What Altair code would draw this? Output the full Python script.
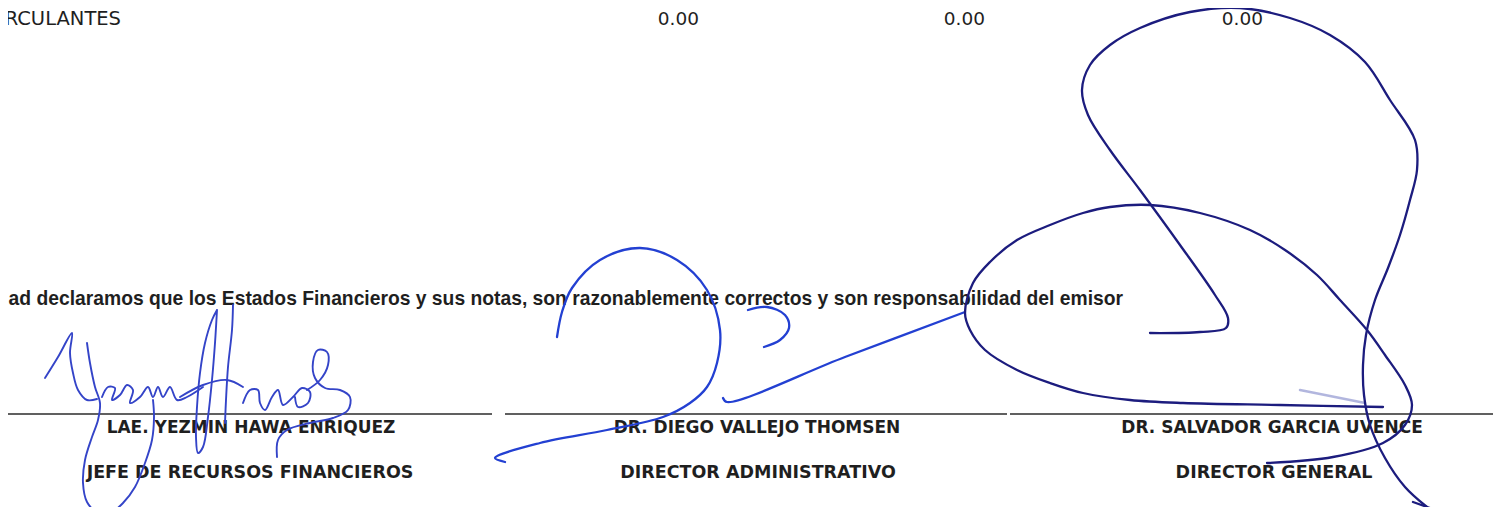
import altair as alt
import pandas as pd

# ---------------- data ----------------
row_label = ["CIRCULANTES"]
row_label_x = [121]
row_label_y = [25]

value_text = ["0.00", "0.00", "0.00"]
value_x = [699, 985, 1263]
value_y = [25, 25, 25]

decl_text = ["Bajo protesta de decir verdad declaramos que los Estados Financieros y sus notas, son razonablemente correctos y son responsabilidad del emisor"]
decl_x = [1123]
decl_y = [305]

names = ["LAE. YEZMIN HAWA ENRIQUEZ", "DR. DIEGO VALLEJO THOMSEN", "DR. SALVADOR GARCIA UVENCE"]
titles = ["JEFE DE RECURSOS FINANCIEROS", "DIRECTOR ADMINISTRATIVO", "DIRECTOR GENERAL"]
names_x = [251, 757, 1272]
titles_x = [250, 758, 1274]
names_y = [433, 433, 433]
titles_y = [478, 478, 478]

rule_x = [8, 505, 1010]
rule_x2 = [492, 1007, 1493]
rule_y = [414, 414, 414]

# signature strokes
sig_left = {
    "L1": [(45, 378), (58, 357), (72, 333), (70, 353), (73, 373), (78, 390), (87, 400), (97, 399)],
    "L2": [(87, 343), (90, 363), (95, 387), (100, 403), (98, 420), (92, 437), (85, 460), (83, 483),
           (87, 502), (97, 512), (110, 513), (123, 503), (135, 487), (145, 463), (152, 440), (154, 417), (153, 400)],
    "L3": [(102, 397), (108, 387), (115, 388), (112, 400), (120, 395), (127, 385), (133, 390), (130, 403),
           (140, 397), (148, 387), (153, 397), (158, 387), (163, 397), (170, 387), (177, 400), (187, 397), (203, 387)],
    "L4": [(217, 310), (212, 320), (205, 343), (200, 373), (197, 407), (196, 437), (198, 453), (203, 447),
           (208, 417), (212, 380), (215, 343), (217, 310)],
    "L5": [(233, 305), (232, 330), (228, 367), (226, 400), (225, 423)],
    "L6": [(180, 397), (203, 385), (227, 380), (243, 387)],
    "L7": [(243, 403), (250, 390), (258, 390), (260, 403), (265, 410), (272, 397), (278, 390), (283, 405),
           (293, 397), (302, 388), (310, 392), (308, 403), (298, 407), (295, 397)],
    "L8": [(307, 390), (320, 380), (328, 365), (327, 352), (318, 350), (313, 362), (315, 378), (325, 388),
           (340, 390), (350, 397), (348, 410), (333, 418), (310, 423), (287, 430), (278, 440), (277, 457)],
}
sig_mid = {
    "M1": [(557, 337), (562, 312), (572, 288), (600, 260), (640, 248), (677, 260), (707, 290), (720, 330),
           (717, 363), (707, 387), (690, 403), (663, 417), (607, 430), (540, 443), (495, 458), (505, 462)],
    "M2": [(748, 310), (767, 307), (785, 315), (789, 328), (780, 340), (764, 347)],
    "M3": [(723, 398), (727, 402), (845, 357), (965, 312)],
}
sig_right = {
    "R1": [(1150, 333), (1200, 332), (1226, 328), (1228, 318), (1215, 295), (1180, 245), (1140, 190),
           (1110, 150), (1088, 115), (1082, 90), (1090, 65), (1110, 45), (1140, 28), (1190, 12), (1240, 8),
           (1290, 18), (1330, 35), (1365, 62), (1390, 100), (1415, 140), (1417, 170), (1410, 200),
           (1400, 235), (1388, 268), (1375, 300), (1366, 335), (1363, 365), (1364, 395), (1370, 425),
           (1385, 458), (1405, 487), (1427, 507)],
    "R2": [(1267, 463), (1333, 457), (1383, 443), (1405, 425), (1412, 405), (1405, 385), (1385, 355),
           (1367, 330), (1340, 300), (1317, 275), (1285, 250), (1250, 230), (1200, 213), (1150, 205),
           (1110, 207), (1083, 213), (1050, 225), (1017, 240), (990, 262), (973, 283), (965, 313),
           (970, 330), (985, 350), (1017, 370), (1050, 383), (1083, 393), (1130, 400), (1183, 403),
           (1280, 405), (1383, 407)],
    "R3": [(1413, 502), (1430, 508)],
}
sig_faint = {"F1": [(1300, 390), (1365, 403)]}

# ---------------- tables ----------------
def strokes_df(d):
    rows = []
    for k, pts in d.items():
        for i, (px, py) in enumerate(pts):
            rows.append({"stroke": k, "i": i, "x": px, "y": py})
    return pd.DataFrame(rows)

XS = alt.Scale(domain=[8, 1493])
YS = alt.Scale(domain=[8, 507], reverse=True)

def X(f="x"):
    return alt.X(f + ":Q", scale=XS, axis=None)

def Y(f="y"):
    return alt.Y(f + ":Q", scale=YS, axis=None)

TXT = "#1f1f1f"

label_layer = alt.Chart(pd.DataFrame({"x": row_label_x, "y": row_label_y, "t": row_label})).mark_text(
    align="right", baseline="alphabetic", font="DejaVu Sans", fontSize=19.5, color=TXT
).encode(x=X(), y=Y(), text="t:N")

values_layer = alt.Chart(pd.DataFrame({"x": value_x, "y": value_y, "t": value_text})).mark_text(
    align="right", baseline="alphabetic", font="DejaVu Sans", fontSize=18.5, color=TXT
).encode(x=X(), y=Y(), text="t:N")

decl = alt.Chart(pd.DataFrame({"x": decl_x, "y": decl_y, "t": decl_text})).mark_text(
    align="right", baseline="alphabetic", font="Liberation Sans", fontWeight="bold", fontSize=19.3, color=TXT
).encode(x=X(), y=Y(), text="t:N")

name_layer = alt.Chart(pd.DataFrame({"x": names_x, "y": names_y, "t": names})).mark_text(
    align="center", baseline="alphabetic", font="DejaVu Sans", fontWeight="bold", fontSize=17, color=TXT
).encode(x=X(), y=Y(), text="t:N")

title_layer = alt.Chart(pd.DataFrame({"x": titles_x, "y": titles_y, "t": titles})).mark_text(
    align="center", baseline="alphabetic", font="DejaVu Sans", fontWeight="bold", fontSize=17.5, color=TXT
).encode(x=X(), y=Y(), text="t:N")

rules = alt.Chart(pd.DataFrame({"x": rule_x, "x2": rule_x2, "y": rule_y})).mark_rule(
    color="#2b2b2b", strokeWidth=1.4
).encode(x=X(), x2="x2:Q", y=Y())

def sig_layer(d, color, width, opacity=1.0):
    return alt.Chart(strokes_df(d)).mark_line(
        color=color, strokeWidth=width, interpolate="catmull-rom", opacity=opacity,
        strokeCap="round", strokeJoin="round"
    ).encode(x=X(), y=Y(), detail="stroke:N", order="i:Q")

chart = alt.layer(
    label_layer, values_layer, decl, name_layer, title_layer, rules,
    sig_layer(sig_faint, "#7f86c8", 2.5, 0.6),
    sig_layer(sig_left, "#3444c8", 1.9),
    sig_layer(sig_mid, "#2340d2", 2.3),
    sig_layer(sig_right, "#1c1c7e", 2.3),
).properties(
    width=1485, height=499, padding=0,
    autosize=alt.AutoSizeParams(type="none"),
).configure(background="white").configure_view(strokeWidth=0)

chart.save("out.html", embed_options={"renderer": "svg", "actions": False})
